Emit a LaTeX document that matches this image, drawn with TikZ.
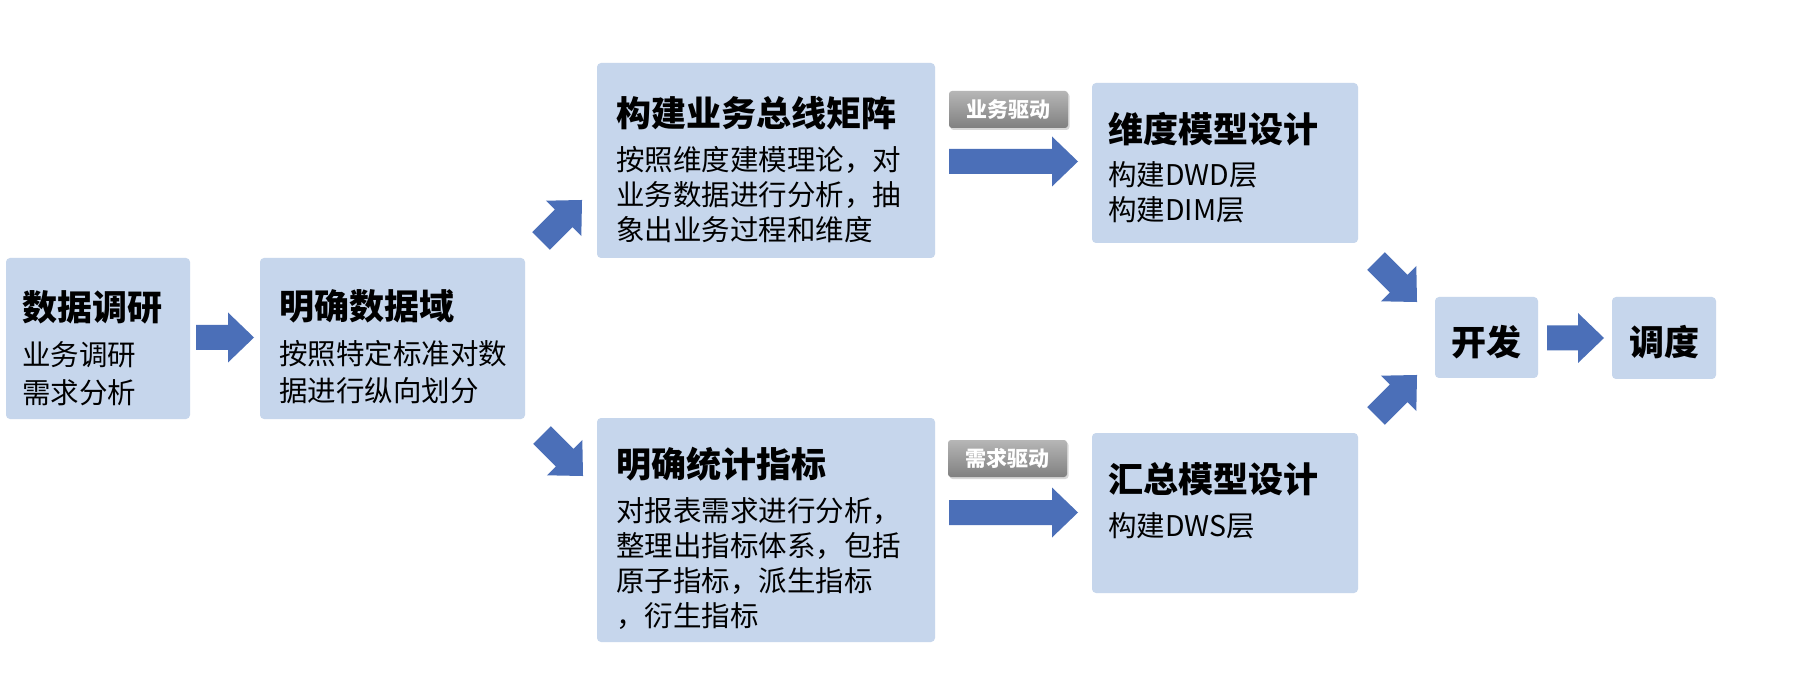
\documentclass[tikz,border=0pt]{standalone}
\usepackage{fontspec}
\setmainfont{Noto Sans CJK SC}
\usetikzlibrary{shadows}
\definecolor{boxfill}{RGB}{198,214,236}
\definecolor{arrowfill}{RGB}{75,111,184}
\definecolor{tagtop}{RGB}{182,182,182}
\definecolor{tagbot}{RGB}{128,128,128}
\newcommand\ttlfont{\fontsize{35}{40}\selectfont\bfseries}
\newcommand\bdyfont{\fontsize{28.5}{34}\selectfont}
% block arrow: #1 tail coordinate, #2 angle, #3 length
\newcommand\blockarrow[3]{%
  \fill[arrowfill, shift={(#1)}, rotate=#2]
    (0,-12.5) -- ({#3-26},-12.5) -- ({#3-26},-25) -- (#3,0) --
    ({#3-26},25) -- ({#3-26},12.5) -- (0,12.5) -- cycle;}
\tikzset{
  box/.style={fill=boxfill, draw=none, rounded corners=4pt, inner sep=0pt},
  ttl/.style={anchor=base west, inner sep=0pt, font=\ttlfont},
  bdy/.style={anchor=base west, inner sep=0pt, font=\bdyfont},
  ctr/.style={inner sep=0pt, font=\ttlfont},
  tag/.style={rounded corners=3pt, top color=tagtop, bottom color=tagbot,
    text=white, inner sep=0pt, font=\fontsize{21}{24}\selectfont\bfseries,
    drop shadow={shadow xshift=1.5pt, shadow yshift=-2pt, opacity=0.3}},
}
\begin{document}
\begin{tikzpicture}[x=1pt, y=-1pt]
\useasboundingbox (0,0) rectangle (1808,676);
\fill[white] (0,0) rectangle (1808,676);

% boxes
\node[box, minimum width=184pt, minimum height=161pt] (b1) at (98,338.5) {};
\node[box, minimum width=265pt, minimum height=161pt] (b2) at (392.5,338.5) {};
\node[box, minimum width=338pt, minimum height=195pt] (b3) at (766,160.5) {};
\node[box, minimum width=338pt, minimum height=224pt] (b4) at (766,530) {};
\node[box, minimum width=266pt, minimum height=160pt] (b5) at (1225,163) {};
\node[box, minimum width=266pt, minimum height=160pt] (b6) at (1225,513) {};
\node[box, minimum width=103pt, minimum height=81pt] (b7) at (1486.5,337.5) {};
\node[box, minimum width=104pt, minimum height=82pt] (b8) at (1664,338) {};

% texts
\node[ttl] (b1h) at (22,321) {数据调研};
\node[bdy] (b1a) at (22,366) {业务调研};
\node[bdy] (b1b) at (22,403) {需求分析};

\node[ttl] (b2h) at (279,320) {明确数据域};
\node[bdy] (b2a) at (279,365) {按照特定标准对数};
\node[bdy] (b2b) at (279,402) {据进行纵向划分};

\node[ttl] (b3h) at (616,127) {构建业务总线矩阵};
\node[bdy] (b3a) at (616,171) {按照维度建模理论，对};
\node[bdy] (b3b) at (616,206) {业务数据进行分析，抽};
\node[bdy] (b3c) at (616,241) {象出业务过程和维度};

\node[ttl] (b4h) at (616,477) {明确统计指标};
\node[bdy] (b4a) at (616,521) {对报表需求进行分析，};
\node[bdy] (b4b) at (616,556) {整理出指标体系，包括};
\node[bdy] (b4c) at (616,591) {原子指标，派生指标};
\node[bdy] (b4d) at (616,626) {，衍生指标};

\node[ttl] (b5h) at (1108,143) {维度模型设计};
\node[bdy] (b5a) at (1108,186) {构建DWD层};
\node[bdy] (b5b) at (1108,221) {构建DIM层};

\node[ttl] (b6h) at (1108,492) {汇总模型设计};
\node[bdy] (b6a) at (1108,536) {构建DWS层};

\node[ctr] (b7t) at (1486.5,342) {开发};
\node[ctr] (b8t) at (1664,342) {调度};

% tags
\node[tag, minimum width=119pt, minimum height=37pt] (tg1) at (1008.5,109.5) {业务驱动};
\node[tag, minimum width=119pt, minimum height=37pt] (tg2) at (1007.5,458.5) {需求驱动};

% arrow tails
\coordinate (a1) at (196,337.5);
\coordinate (a2) at (541,241);
\coordinate (a3) at (542,435);
\coordinate (a4) at (949,161.5);
\coordinate (a5) at (949,512.5);
\coordinate (a6) at (1376,261);
\coordinate (a7) at (1376,416);
\coordinate (a8) at (1547,338);

\blockarrow{a1}{0}{58}
\blockarrow{a2}{45}{58}
\blockarrow{a3}{-45}{58}
\blockarrow{a4}{0}{129}
\blockarrow{a5}{0}{129}
\blockarrow{a6}{-45}{58}
\blockarrow{a7}{45}{58}
\blockarrow{a8}{0}{57}
\end{tikzpicture}
\end{document}
